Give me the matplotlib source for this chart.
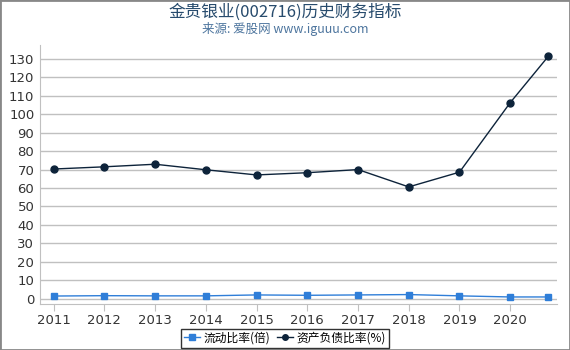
import matplotlib
matplotlib.use("Agg")
import matplotlib.pyplot as plt
from matplotlib.patches import Rectangle

plt.rcParams['font.family'] = ['Noto Sans CJK SC', 'DejaVu Sans']

x_pos = [2011, 2012, 2013, 2014, 2015, 2016, 2017, 2018, 2019, 2020, 2020.75]
tick_years = [2011, 2012, 2013, 2014, 2015, 2016, 2017, 2018, 2019, 2020]
current_ratio = [1.4, 1.6, 1.5, 1.5, 2.0, 1.8, 2.0, 2.2, 1.5, 0.9, 0.9]
debt_ratio = [70.3, 71.5, 72.9, 69.9, 67.1, 68.3, 70.0, 60.6, 68.6, 106.3, 131.4]
y_ticks = list(range(0, 140, 10))

fig = plt.figure(figsize=(5.7, 3.5), dpi=100)
ax = fig.add_axes([0.070, 0.131, 0.907, 0.740])

ax.plot(x_pos, current_ratio, color='#2f7ed8', lw=1, marker='s', ms=5,
        label='流动比率(倍)', zorder=3)
ax.plot(x_pos, debt_ratio, color='#0d233a', lw=1, marker='o', ms=5,
        label='资产负债比率(%)', zorder=3)

ax.set_xlim(2010.73, 2020.92)
ax.set_ylim(-3, 137.5)
ax.set_xticks(tick_years)
ax.set_xticklabels([str(y) for y in tick_years], family='DejaVu Sans')
ax.set_yticks(y_ticks)
ax.set_yticklabels([str(v) for v in y_ticks], family='DejaVu Sans')
ax.grid(axis='y', color='#c0c0c0', lw=1)
ax.set_axisbelow(True)
for s in ['top', 'right']:
    ax.spines[s].set_visible(False)
ax.spines['left'].set_color('#c0c0c0')
ax.spines['bottom'].set_color('#c0c0c0')
ax.tick_params(axis='y', length=0, labelsize=9.5, colors='#333333', pad=4)
ax.tick_params(axis='x', length=5, color='#c0c0c0', labelsize=9.5, colors='#333333', pad=2)

fig.text(0.5, 0.965, '金贵银业(002716)历史财务指标', ha='center', va='center',
         fontsize=12, color='#274b6d')
fig.text(0.5, 0.918, '来源: 爱股网 www.iguuu.com', ha='center', va='center',
         fontsize=9, color='#4d759e')

leg = fig.legend(loc='center', bbox_to_anchor=(0.5, 0.034), ncol=2, fontsize=8.5,
                 frameon=True, fancybox=False, edgecolor='#000000',
                 handlelength=1.4, handletextpad=0.3, columnspacing=0.5,
                 borderpad=0.25, markerscale=0.8)
leg.get_frame().set_linewidth(1)

fig.patches.append(Rectangle((0, 0), 1, 1, transform=fig.transFigure,
                             fill=False, edgecolor='#888888', lw=2))

fig.savefig('out.png', dpi=100)
